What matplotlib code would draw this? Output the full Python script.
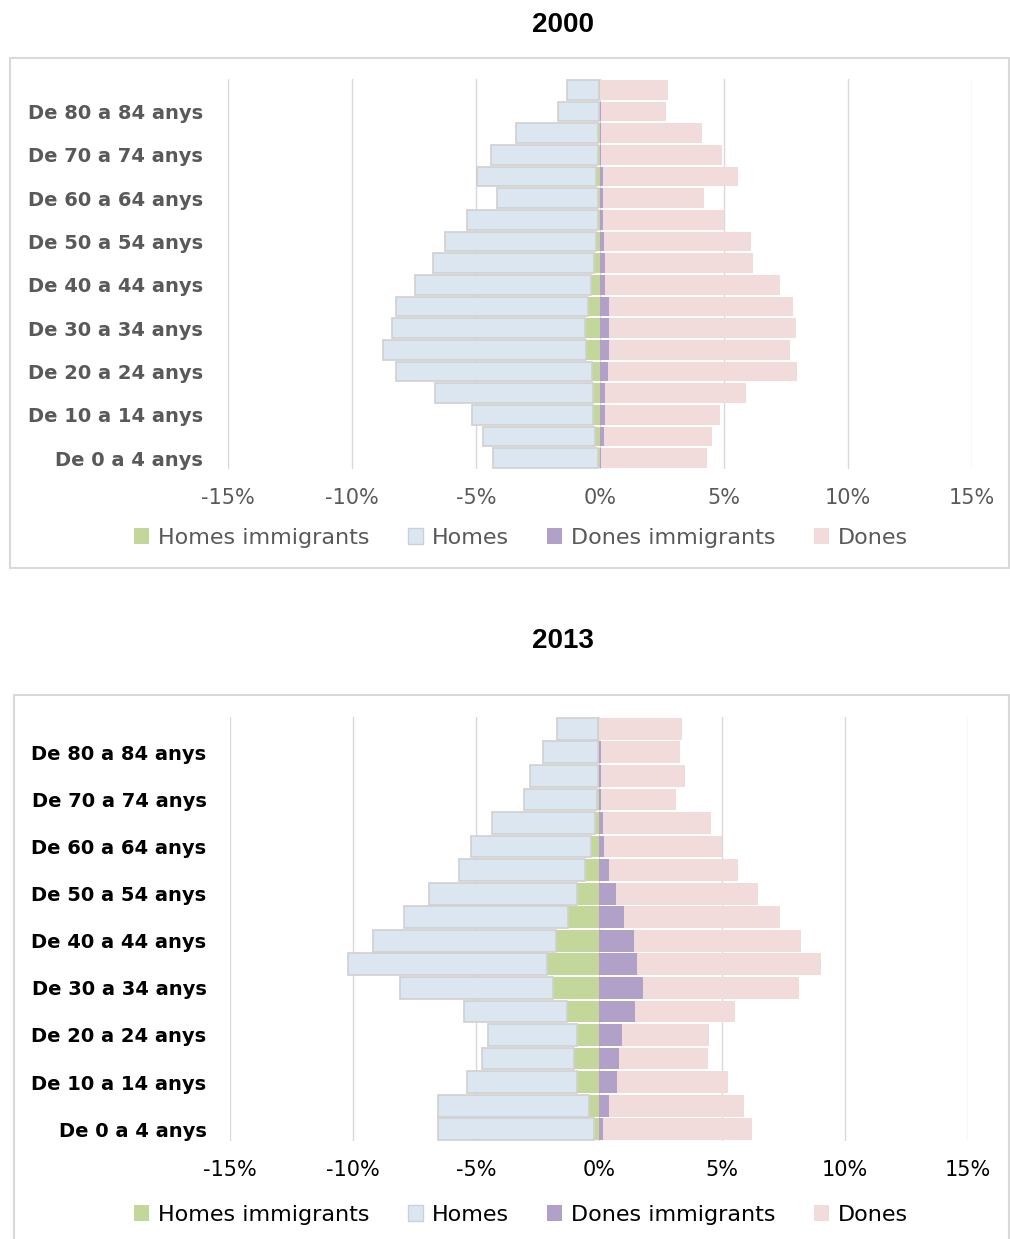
import matplotlib
matplotlib.use("Agg")
import matplotlib.pyplot as plt
from matplotlib.patches import Rectangle, Patch
from matplotlib.ticker import FuncFormatter

# age groups, bottom (0-4) to top (85+)
ages = ["De 0 a 4 anys", "De 5 a 9 anys", "De 10 a 14 anys", "De 15 a 19 anys",
        "De 20 a 24 anys", "De 25 a 29 anys", "De 30 a 34 anys", "De 35 a 39 anys",
        "De 40 a 44 anys", "De 45 a 49 anys", "De 50 a 54 anys", "De 55 a 59 anys",
        "De 60 a 64 anys", "De 65 a 69 anys", "De 70 a 74 anys", "De 75 a 79 anys",
        "De 80 a 84 anys", "De 85 anys i més"]

# % of each sex, 2000
homes_imm_2000 = [0.09, 0.20, 0.28, 0.28, 0.32, 0.55, 0.59, 0.49, 0.37, 0.25, 0.15, 0.09, 0.09, 0.15, 0.09, 0.09, 0.03, 0.03]
homes_2000 = [4.24, 4.51, 4.88, 6.38, 7.92, 8.22, 7.79, 7.74, 7.09, 6.50, 6.12, 5.27, 4.07, 4.81, 4.32, 3.30, 1.68, 1.30]
dones_imm_2000 = [0.06, 0.15, 0.22, 0.22, 0.34, 0.37, 0.37, 0.37, 0.22, 0.22, 0.15, 0.11, 0.11, 0.11, 0.06, 0.06, 0.06, 0.02]
dones_2000 = [4.25, 4.38, 4.62, 5.68, 7.60, 7.30, 7.52, 7.40, 7.05, 5.94, 5.94, 4.89, 4.08, 5.45, 4.87, 4.07, 2.61, 2.71]

# % of each sex, 2013
homes_imm_2013 = [0.19, 0.42, 0.88, 1.00, 0.91, 1.30, 1.89, 2.12, 1.75, 1.26, 0.91, 0.56, 0.32, 0.15, 0.10, 0.05, 0.05, 0.05]
homes_2013 = [6.34, 6.11, 4.50, 3.77, 3.59, 4.18, 6.20, 8.07, 7.44, 6.65, 5.99, 5.14, 4.89, 4.18, 2.95, 2.75, 2.21, 1.67]
dones_imm_2013 = [0.15, 0.42, 0.73, 0.83, 0.94, 1.48, 1.80, 1.53, 1.43, 1.00, 0.69, 0.42, 0.20, 0.17, 0.10, 0.07, 0.07, 0.02]
dones_2013 = [6.07, 5.48, 4.51, 3.62, 3.53, 4.03, 6.31, 7.51, 6.77, 6.37, 5.79, 5.25, 4.79, 4.37, 3.02, 3.44, 3.22, 3.37]

xticks = [-15, -10, -5, 0, 5, 10, 15]
legend_labels = ["Homes immigrants", "Homes", "Dones immigrants", "Dones"]

c_green = "#c4d79b"
c_blue = "#dce6f1"
c_purple = "#b1a0c7"
c_pink = "#f2dcdb"
c_grid = "#d9d9d9"

W, H = 1010, 1239
fig = plt.figure(figsize=(W / 100, H / 100), dpi=100)


def px_rect(x0, y0, x1, y1):
    # pixel box (top-left origin) -> figure fraction rect
    return [x0 / W, 1 - y1 / H, (x1 - x0) / W, (y1 - y0) / H]


def pyramid(ax, hi, h, di, d, txtcolor, legend_y, ypad):
    y = list(range(len(ages)))
    neg_hi = [-v for v in hi]
    neg_h = [-v for v in h]
    ax.barh(y, neg_hi, height=0.92, color=c_green, zorder=3)
    ax.barh(y, neg_h, left=neg_hi, height=0.92, color=c_blue,
            edgecolor="#d0d0d0", linewidth=1.2, zorder=3)
    ax.barh(y, di, height=0.92, color=c_purple, zorder=3)
    ax.barh(y, d, left=di, height=0.92, color=c_pink, zorder=3)

    ax.set_xlim(-15, 15)
    ax.set_ylim(-0.5, len(ages) - 0.5)
    ax.set_xticks(xticks)
    ax.xaxis.set_major_formatter(FuncFormatter(lambda v, p: f"{v:.0f}%"))
    ax.set_yticks(y[::2])
    ax.set_yticklabels(ages[::2], family="DejaVu Sans", fontweight="bold", fontsize=14)
    ax.tick_params(length=0)
    ax.tick_params(axis="x", pad=14, labelsize=15, labelcolor=txtcolor)
    ax.tick_params(axis="y", pad=ypad, labelcolor=txtcolor)
    ax.grid(axis="x", color=c_grid, linewidth=1, zorder=0)
    for s in ax.spines.values():
        s.set_visible(False)

    handles = [Patch(facecolor=c_green), Patch(facecolor=c_blue, edgecolor="#c8d0dc"),
               Patch(facecolor=c_purple), Patch(facecolor=c_pink)]
    fig.legend(handles, legend_labels, loc="center", bbox_to_anchor=(521 / W, 1 - legend_y / H),
               ncol=4, frameon=False, handlelength=0.7, handleheight=0.7,
               handletextpad=0.4, columnspacing=1.7,
               prop={"size": 16}, labelcolor=txtcolor)


# panel frames
fig.add_artist(Rectangle((10 / W, 1 - 568 / H), 999 / W, 510 / H, transform=fig.transFigure,
                         fill=False, edgecolor=c_grid, linewidth=1.5))
fig.add_artist(Rectangle((14 / W, 1 - 1245 / H), 995 / W, 550 / H, transform=fig.transFigure,
                         fill=False, edgecolor=c_grid, linewidth=1.5))

fig.text(563 / W, 1 - 25 / H, "2000", ha="center", va="center", fontsize=20,
         fontweight="bold", family="Liberation Sans")
fig.text(563 / W, 1 - 641 / H, "2013", ha="center", va="center", fontsize=20,
         fontweight="bold", family="Liberation Sans")

ax1 = fig.add_axes(px_rect(228, 79, 972, 469))
pyramid(ax1, homes_imm_2000, homes_2000, dones_imm_2000, dones_2000, "#595959", 538, 18)

ax2 = fig.add_axes(px_rect(230, 717, 968, 1141))
pyramid(ax2, homes_imm_2013, homes_2013, dones_imm_2013, dones_2013, "black", 1215, 17)

fig.savefig("out.png", dpi=100)
